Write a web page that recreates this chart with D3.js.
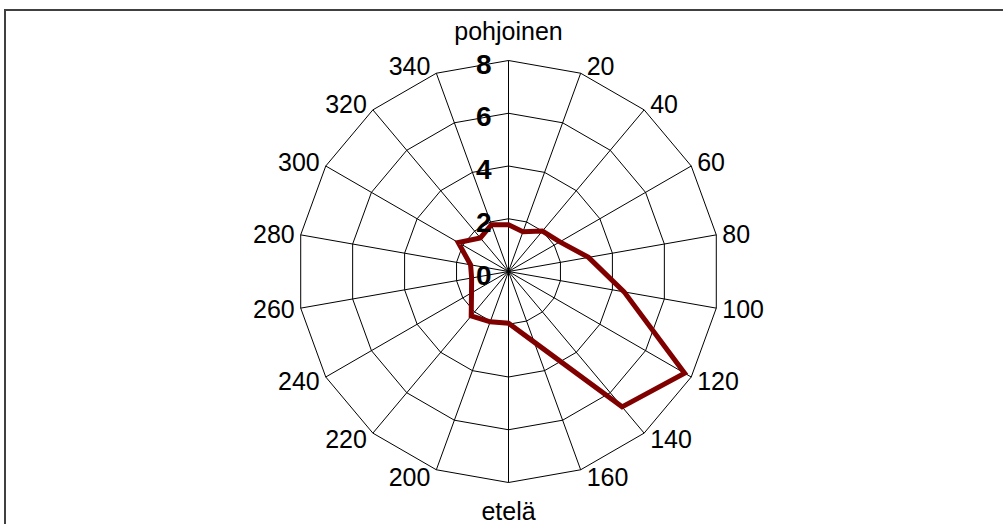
<!DOCTYPE html>
<html>
<head>
<meta charset="utf-8">
<script src="https://cdn.jsdelivr.net/npm/d3@7"></script>
<style>
  html, body { margin: 0; padding: 0; background: #fff; }
  svg { display: block; }
</style>
</head>
<body>
<svg id="chart" width="1003" height="524"></svg>
<script>
const categories = ["pohjoinen","20","40","60","80","100","120","140","160","etelä","200","220","240","260","280","300","320","340"];
const values = [1.77, 1.6, 2.0, 2.25, 3.08, 4.45, 7.71, 6.7, 2.85, 1.96, 2.03, 2.2, 1.62, 1.42, 1.46, 2.2, 1.66, 1.89];
const tickValues = [0, 2, 4, 6, 8];
const tickLabels = ["0", "2", "4", "6", "8"];

const svg = d3.select("#chart");
const cx = 508.5, cy = 271.5, R = 211;

// frame
svg.append("rect").attr("x", 5).attr("y", 10).attr("width", 1010).attr("height", 530)
  .attr("fill", "#fff").attr("stroke", "#404040").attr("stroke-width", 2);

const r = d3.scaleLinear().domain([0, 8]).range([0, R]);
const ang = d3.scaleLinear().domain([0, categories.length]).range([0, 2 * Math.PI]);

const g = svg.append("g").attr("transform", `translate(${cx},${cy})`);

// rings
const ringLine = d3.lineRadial()
  .angle((d, i) => ang(i))
  .radius(d => r(d))
  .curve(d3.curveLinearClosed);
tickValues.filter(v => v > 0).forEach(v => {
  g.append("path")
    .attr("d", ringLine(categories.map(() => v)))
    .attr("fill", "none").attr("stroke", "#000").attr("stroke-width", 1);
});

// spokes
categories.forEach((c, i) => {
  const a = ang(i);
  g.append("line")
    .attr("x1", 0).attr("y1", 0)
    .attr("x2", r(8) * Math.sin(a)).attr("y2", -r(8) * Math.cos(a))
    .attr("stroke", "#000").attr("stroke-width", 1);
});

// data line
const dataLine = d3.lineRadial()
  .angle((d, i) => ang(i))
  .radius(d => r(d))
  .curve(d3.curveLinearClosed);
g.append("path")
  .attr("d", dataLine(values))
  .attr("fill", "none")
  .attr("stroke", "#800000")
  .attr("stroke-width", 5)
  .attr("stroke-linejoin", "miter");

// category labels
categories.forEach((c, i) => {
  const a = ang(i);
  const s = Math.sin(a), co = Math.cos(a);
  const vx = r(8) * s, vy = -r(8) * co;
  const t = g.append("text")
    .attr("font-family", "'Liberation Sans', Arial, sans-serif")
    .attr("font-size", 25)
    .attr("fill", "#000")
    .text(c);
  if (Math.abs(s) < 0.01) {
    t.attr("text-anchor", "middle").attr("x", 0)
      .attr("y", co > 0 ? -r(8) - 21 : r(8) + 37);
  } else {
    t.attr("text-anchor", s > 0 ? "start" : "end")
      .attr("x", vx + (s > 0 ? 6 : -6))
      .attr("y", vy - 7.5 * co)
      .attr("dy", "0.36em");
  }
});

// radial tick labels
tickValues.forEach((v, i) => {
  g.append("text")
    .attr("font-family", "'Liberation Sans', Arial, sans-serif")
    .attr("font-size", 28)
    .attr("font-weight", "bold")
    .attr("text-anchor", "end")
    .attr("x", -17)
    .attr("y", -r(v) + 3)
    .attr("dy", "0.36em")
    .attr("fill", "#000")
    .text(tickLabels[i]);
});
</script>
</body>
</html>
